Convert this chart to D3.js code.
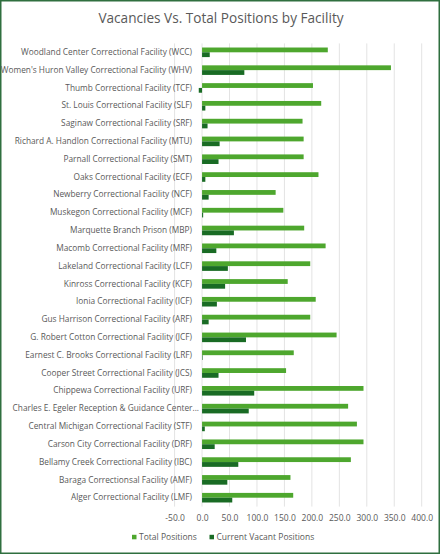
<!DOCTYPE html>
<html>
<head>
<meta charset="utf-8">
<script src="https://cdn.jsdelivr.net/npm/d3@7"></script>
<style>
  body { margin: 0; background: #fff; }
  text { font-family: "Open Sans", sans-serif; fill: #595959; }
</style>
</head>
<body>
<div id="chart"></div>
<script>
// categories listed bottom-to-top, as in the source sheet
const facilities = [
  "Alger Correctional Facility (LMF)",
  "Baraga Correctionsal Facility (AMF)",
  "Bellamy Creek Correctional Facility (IBC)",
  "Carson City Correctional Facility (DRF)",
  "Central Michigan Correctional Facility (STF)",
  "Charles E. Egeler Reception & Guidance Center (RGC)",
  "Chippewa Correctional Facility (URF)",
  "Cooper Street Correctional Facility (JCS)",
  "Earnest C. Brooks Correctional Facility (LRF)",
  "G. Robert Cotton Correctional Facility (JCF)",
  "Gus Harrison Correctional Facility (ARF)",
  "Ionia Correctional Facility (ICF)",
  "Kinross Correctional Facility (KCF)",
  "Lakeland Correctional Facility (LCF)",
  "Macomb Correctional Facility (MRF)",
  "Marquette Branch Prison (MBP)",
  "Muskegon Correctional Facility (MCF)",
  "Newberry Correctional Facility (NCF)",
  "Oaks Correctional Facility (ECF)",
  "Parnall Correctional Facility (SMT)",
  "Richard A. Handlon Correctional Facility (MTU)",
  "Saginaw Correctional Facility (SRF)",
  "St. Louis Correctional Facility (SLF)",
  "Thumb Correctional Facility (TCF)",
  "Women's Huron Valley Correctional Facility (WHV)",
  "Woodland Center Correctional Facility (WCC)"
];

const totalPositions = [
  166, 161, 271, 294, 282, 266, 294, 153, 167, 245, 197, 207, 156,
  197, 225, 186, 148, 134, 212, 185, 185, 183, 217, 202, 344, 229
];

const vacantPositions = [
  55, 46, 66, 23, 5, 85, 95, 30, 1, 80, 12, 27, 42,
  47, 26, 58, 2, 12, 6, 30, 32, 10, 6, -6, 77, 14
];

const seriesNames = ["Total Positions", "Current Vacant Positions"];
const seriesColors = ["#4ea72e", "#196b24"];
const xTicks = [-50, 0, 50, 100, 150, 200, 250, 300, 350, 400];

const width = 440, height = 554;
const margin = { top: 43.4, right: 18.3, bottom: 47.4, left: 174.6 };

const svg = d3.select("#chart").append("svg")
  .attr("width", width)
  .attr("height", height);

svg.append("rect")
  .attr("x", 0.75).attr("y", 0.75)
  .attr("width", width - 1.5).attr("height", height - 1.5)
  .attr("fill", "#fff")
  .attr("stroke", "#2f6f3f")
  .attr("stroke-width", 1.5);

svg.append("text")
  .attr("x", width / 2 + 1)
  .attr("y", 23)
  .attr("text-anchor", "middle")
  .style("font-size", "13.6px")
  .text("Vacancies Vs. Total Positions by Facility");

const rows = facilities.map((f, i) => ({
  name: f,
  values: [totalPositions[i], vacantPositions[i]]
}));

const xScale = d3.scaleLinear()
  .domain([-50, 400])
  .range([margin.left, width - margin.right]);

const yScale = d3.scaleBand()
  .domain(facilities.slice().reverse())
  .range([margin.top, height - margin.bottom])
  .paddingInner(0);

const ySub = d3.scaleBand()
  .domain(seriesNames)
  .range([0, yScale.bandwidth()])
  .paddingInner(0)
  .paddingOuter(0.86);

// gridlines
svg.append("g")
  .selectAll("line")
  .data(xTicks)
  .join("line")
  .attr("x1", d => xScale(d))
  .attr("x2", d => xScale(d))
  .attr("y1", margin.top)
  .attr("y2", height - margin.bottom)
  .attr("stroke", "#e3e3e3")
  .attr("stroke-width", 1);

// bars
const groups = svg.append("g")
  .selectAll("g")
  .data(rows)
  .join("g")
  .attr("transform", d => `translate(0,${yScale(d.name)})`);

groups.selectAll("rect")
  .data(d => d.values.map((v, k) => ({ key: seriesNames[k], value: v, k })))
  .join("rect")
  .attr("x", d => xScale(Math.min(0, d.value)))
  .attr("y", d => ySub(d.key))
  .attr("width", d => Math.abs(xScale(d.value) - xScale(0)))
  .attr("height", ySub.bandwidth())
  .attr("fill", d => seriesColors[d.k]);

// category labels (only the longest one is cut short, like Excel does)
const maxLen = 49;
const isLong = d => d.length > maxLen;
const yAxis = d3.axisLeft(yScale)
  .tickSize(0)
  .tickPadding(10)
  .tickFormat(d => isLong(d) ? d.slice(0, 45) + "..." : d);

const yAxisG = svg.append("g")
  .attr("transform", `translate(${xScale(0)},0)`)
  .call(yAxis);
yAxisG.select(".domain").remove();
yAxisG.selectAll("text")
  .style("font-size", "8.3px")
  .attr("fill", "#595959")
  .attr("dx", d => isLong(d) ? "7px" : "0");

// x axis labels
const xAxis = d3.axisBottom(xScale)
  .tickValues(xTicks)
  .tickSize(0)
  .tickPadding(8)
  .tickFormat(d => d.toFixed(1));

const xAxisG = svg.append("g")
  .attr("transform", `translate(0,${height - margin.bottom})`)
  .call(xAxis);
xAxisG.select(".domain").remove();
xAxisG.selectAll("text")
  .style("font-size", "8.5px")
  .attr("fill", "#595959");

// legend
const legendX = [132, 209.5];
const legend = svg.append("g")
  .selectAll("g")
  .data(seriesNames)
  .join("g")
  .attr("transform", (d, i) => `translate(${legendX[i]},537)`);

legend.append("rect")
  .attr("x", 0).attr("y", -2.2)
  .attr("width", 4.5).attr("height", 4.5)
  .attr("fill", (d, i) => seriesColors[i]);

legend.append("text")
  .attr("x", 7)
  .attr("y", 0)
  .attr("dy", "0.35em")
  .style("font-size", "8.5px")
  .text(d => d);
</script>
</body>
</html>
